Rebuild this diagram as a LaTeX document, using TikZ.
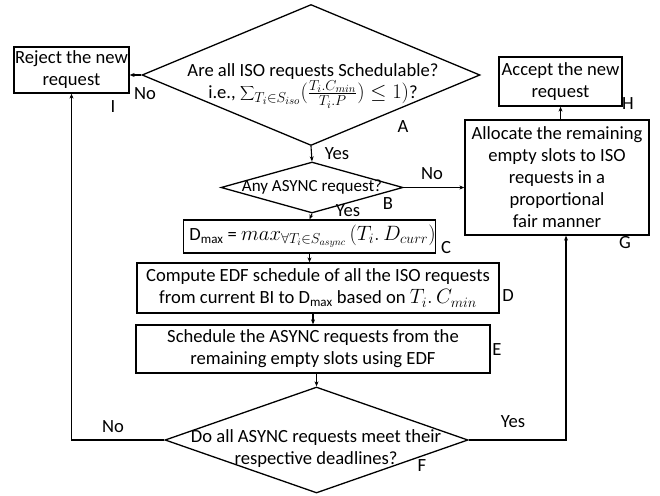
\documentclass[tikz,border=0pt]{standalone}
\usepackage{fontspec}
\setmainfont{Carlito}
\usetikzlibrary{shapes.geometric,arrows.meta}

\newcommand\mathsz{\fontsize{21.5}{22}\selectfont}

\tikzset{
	box/.style={draw,line width=1.3pt,inner sep=0pt,align=center},
	dia/.style={draw,diamond,line width=1.3pt,inner sep=0pt},
	arr/.style={line width=1.1pt,-{Stealth[length=5pt,width=4pt]}},
	tag/.style={inner sep=0pt}
}

\begin{document}
\begin{tikzpicture}[x=1pt,y=-1pt,font=\fontsize{18.6}{22}\selectfont]
	\useasboundingbox (0,0) rectangle (660,495);
	% decisions
	\node[dia,minimum width=338,minimum height=141] (A) at (311,75) {};
	\node[align=center] (At) at (313,86) {Are all ISO requests Schedulable?\\
		i.e., {\mathsz$\displaystyle\sum\nolimits_{T_i\in S_{iso}}({\textstyle\frac{T_i.C_{min}}{T_i.P}})\leq 1)$}?};
	\node[dia,minimum width=182,minimum height=51] (B) at (312,187.5) {};
	\node[font=\fontsize{17}{20}\selectfont] (Bt) at (312,187) {Any ASYNC request?};
	\node[dia,minimum width=303,minimum height=106] (F) at (316.5,440) {};
	\node[align=center] (Ft) at (316,449) {Do all ASYNC requests meet their\\ respective deadlines?};
	% boxes
	\node[box,minimum width=115,minimum height=46] (I) at (71.5,70) {Reject the new\\ request};
	\node[box,minimum width=123,minimum height=49] (H) at (560.5,81.5) {Accept the new\\ request};
	\node[box,minimum width=184,minimum height=115] (G) at (557,177.5)
		{Allocate the remaining\\ empty slots to ISO\\ requests in a\\ proportional\\ fair manner};
	\node[box,minimum width=251,minimum height=33] (C) at (309.5,236.5)
		{\hspace{6pt}D\textsubscript{max} = {\fontsize{20.5}{22}\selectfont$max_{\forall T_i\in S_{async}}\,(T_i.\,D_{curr})$}};
	\node[box,minimum width=362,minimum height=50] (D) at (318,288)
		{Compute EDF schedule of all the ISO requests\\ from current BI to D\textsubscript{max} based on {\mathsz$T_i.\,C_{min}$}};
	\node[box,minimum width=354,minimum height=48] (E) at (313,349)
		{Schedule the ASYNC requests from the\\ remaining empty slots using EDF};
	% letters
	\node[tag] (lA) at (403,127) {A};
	\node[tag] (lB) at (388,204) {B};
	\node[tag] (lC) at (446,248) {C};
	\node[tag] (lD) at (508,296) {D};
	\node[tag] (lE) at (497,350) {E};
	\node[tag] (lF) at (422,466) {F};
	\node[tag] (lG) at (625,243) {G};
	\node[tag] (lH) at (628,104) {H};
	\node[tag] (lI) at (113,107) {I};
	% yes / no
	\node[tag] (nA) at (145,94) {No};
	\node[tag] (yA) at (337,154) {Yes};
	\node[tag] (nB) at (432,174) {No};
	\node[tag] (yB) at (348,211) {Yes};
	\node[tag] (nF) at (113,427) {No};
	\node[tag] (yF) at (513,422) {Yes};
	% connectors
	\draw[arr] (A.west) -- (A.west -| I.east);
	\draw[arr] (A.south) -- (B.north);
	\draw[arr] (B.east) -- (B.east -| G.west);
	\draw[arr] (B.south) -- (C.north);
	\draw[arr] (C.south) -- (C.south |- D.north);
	\draw[arr] (D.south -| E.north) -- (E.north);
	\draw[arr] (E.south -| F.north) -- (F.north);
	\draw[arr] (F.west) -| (I.south);
	\draw[arr] (F.east) -| ([xshift=9pt]G.south);
	\draw[arr] (G.north -| H.south) -- (H.south);
\end{tikzpicture}
\end{document}
